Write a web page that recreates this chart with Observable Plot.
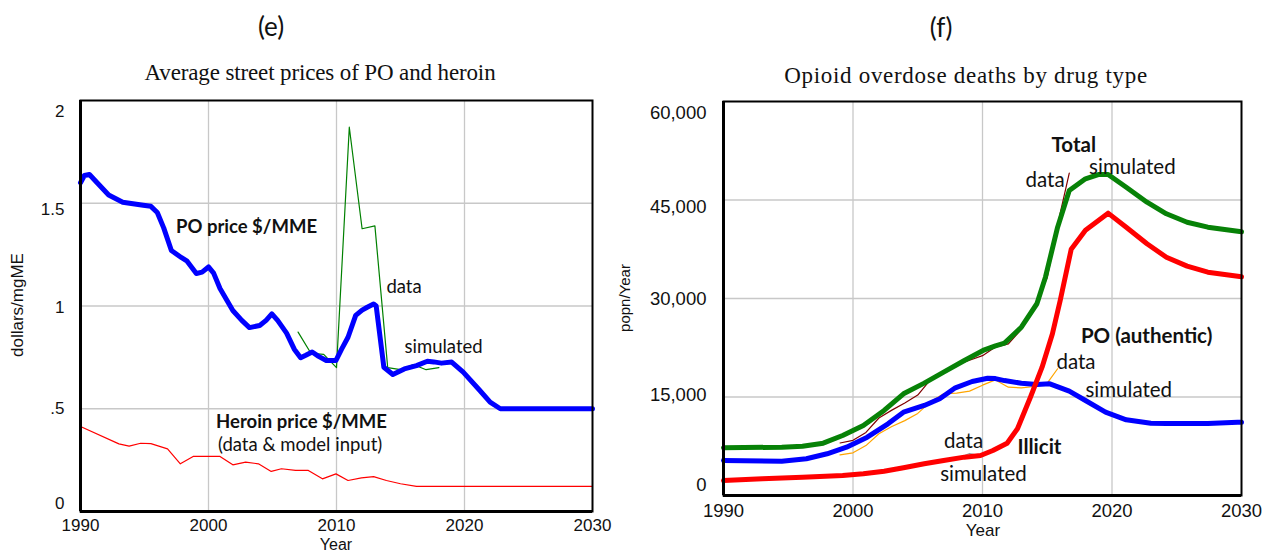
<!DOCTYPE html>
<html>
<head>
<meta charset="utf-8">
<script src="https://cdn.jsdelivr.net/npm/d3@7"></script>
<script src="https://cdn.jsdelivr.net/npm/@observablehq/plot@0.6"></script>
<style>
  html, body { margin: 0; padding: 0; background: #fff; }
  #wrap { position: relative; width: 1278px; height: 556px; overflow: hidden; background: #fff; }
  .t { position: absolute; transform: translate(-50%, -50%); white-space: nowrap; color: #111; }
  .panel { position: absolute; top: 90px; }
  .lab { font-family: "Liberation Sans", Arial, sans-serif; }
  .letter { font-family: Lato, "Open Sans", sans-serif; font-size: 26px; }
  .sub { font-family: "Liberation Serif", "Times New Roman", serif; font-size: 23px; }
  #p1 svg g[aria-label$="tick label"] { font-size: 17px !important; font-family: "Liberation Sans", Arial, sans-serif !important; }
  #p2 svg g[aria-label$="tick label"] { font-size: 18.5px !important; font-family: "Liberation Sans", Arial, sans-serif !important; }
</style>
</head>
<body>
<div id="wrap">
  <div class="t letter" style="left:271px;top:26px">(e)</div>
  <div class="t letter" style="left:941px;top:27px">(f)</div>
  <div class="t sub" style="left:320px;top:73px;letter-spacing:-0.13px">Average street prices of PO and heroin</div>
  <div class="t sub" style="left:966px;top:76px;letter-spacing:0.7px">Opioid overdose deaths by drug type</div>
  <div id="p1" class="panel" style="left:0px"></div>
  <div id="p2" class="panel" style="left:640px"></div>
  <div class="t lab" style="left:336px;top:545px;font-size:16px">Year</div>
  <div class="t lab" style="left:983px;top:531px;font-size:17px">Year</div>
  <div class="t lab" style="left:18px;top:305px;font-size:17px;transform:translate(-50%,-50%) rotate(-90deg)">dollars/mgME</div>
  <div class="t lab" style="left:624px;top:298px;font-size:15px;transform:translate(-50%,-50%) rotate(-90deg)">popn/Year</div>
</div>
<script>
// ---------- data ----------
const yearTicks = [1990, 2000, 2010, 2020, 2030];
const yearGrid = [2000, 2010, 2020];

// Panel (e): dollars per mgME
const priceTicks = [0, 0.5, 1, 1.5, 2];
const priceGrid = [0.5, 1, 1.5];
const poPriceSimulated = [
  [1990,1.60],[1990.3,1.635],[1990.7,1.64],[1991.3,1.60],[1992.2,1.54],[1993.3,1.505],[1994.9,1.49],
  [1995.5,1.485],[1996.0,1.455],[1996.5,1.38],[1997.1,1.27],[1997.9,1.235],[1998.3,1.22],[1999.05,1.158],
  [1999.5,1.165],[2000.0,1.19],[2000.4,1.16],[2000.9,1.085],[2001.9,0.978],[2002.6,0.93],[2003.2,0.895],
  [2004.0,0.905],[2004.5,0.93],[2004.95,0.962],[2005.4,0.93],[2006.1,0.868],[2006.7,0.79],[2007.2,0.748],
  [2007.6,0.76],[2008.1,0.776],[2008.6,0.755],[2009.2,0.735],[2009.96,0.735],[2010.4,0.79],[2010.9,0.848],
  [2011.5,0.954],[2012.0,0.98],[2012.4,0.994],[2012.9,1.01],[2013.1,1.0],[2013.7,0.702],[2014.4,0.667],
  [2015.3,0.694],[2016.25,0.71],[2017.1,0.731],[2017.6,0.728],[2018.2,0.722],[2019.0,0.727],[2019.9,0.678],
  [2021.2,0.589],[2022.0,0.532],[2022.8,0.50],[2030,0.50]
];
const poPriceData = [
  [2007,0.873],[2008,0.77],[2009,0.765],[2010,0.70],[2011,1.87],[2012,1.376],[2013,1.39],
  [2014,0.70],[2015,0.69],[2016,0.715],[2017,0.69],[2018,0.70]
];
const heroinPrice = [
  [1990,0.414],[1993,0.329],[1993.8,0.318],[1994.7,0.332],[1995.5,0.33],[1996.8,0.305],[1997.8,0.232],
  [1998.8,0.268],[2000.9,0.268],[2001.9,0.227],[2002.9,0.24],[2003.9,0.232],[2004.9,0.195],[2005.7,0.208],
  [2006.8,0.2],[2007.8,0.2],[2008.9,0.159],[2009.96,0.183],[2010.9,0.151],[2011.95,0.164],[2012.9,0.17],
  [2013.9,0.151],[2015.0,0.135],[2016.25,0.122],[2030,0.122]
];

// Panel (f): deaths per year
const deathTicks = [0, 15000, 30000, 45000, 60000];
const deathGrid = [15000, 30000, 45000];
const totalSimulated = [
  [1990,7260],[1994.5,7360],[1996.1,7510],[1997.7,7970],[1999.2,9140],[2000.8,10660],[2002.4,12950],
  [2003.9,15490],[2005.5,17110],[2007.0,18780],[2008.6,20560],[2010.15,22190],[2011.0,22800],[2011.7,23200],
  [2013.0,25630],[2014.2,29200],[2014.86,33250],[2015.8,40860],[2016.7,46450],[2017.95,48230],[2019.0,48900],
  [2019.7,48890],[2021.1,46950],[2022.7,44670],[2024.2,42900],[2025.8,41620],[2027.4,40860],[2030,40150]
];
const totalData = [
  [1999,8000],[2000,8400],[2001,9600],[2002,11800],[2003,13000],[2004,14100],[2005,15300],[2006,17700],
  [2007,18700],[2008,19900],[2009,20600],[2010,21300],[2011,22600],[2012,23100],[2013,25300],[2014,28800],
  [2015,33200],[2016,43000],[2016.7,49100]
];
const poAuthenticSimulated = [
  [1990,5330],[1994.5,5230],[1996.4,5590],[1998.0,6350],[1999.5,7360],[2001.1,8880],[2002.7,10920],
  [2003.9,12690],[2005.5,13710],[2006.7,14730],[2007.9,16400],[2009.2,17360],[2010.4,17860],[2011.0,17800],
  [2011.7,17500],[2013.0,17100],[2014.2,16900],[2015.2,17010],[2016.7,15890],[2017.95,14470],[2019.5,12690],
  [2021.1,11530],[2023.0,11010],[2024.2,10960],[2027.4,10960],[2029.7,11160],[2030,11160]
];
const poAuthenticData = [
  [1999,6200],[2000,6500],[2001,7600],[2002,9400],[2003,10500],[2004,11400],[2005,12500],[2006,14300],
  [2007,15500],[2008,15600],[2009,15900],[2010,16800],[2011,17600],[2012,16500],[2013,16400],[2014,16600],
  [2015,17100],[2015.8,19300]
];
const illicitSimulated = [
  [1990,2280],[1993.0,2540],[1996.1,2790],[1999.2,3050],[2000.8,3300],[2002.4,3700],[2003.9,4220],
  [2005.5,4830],[2007.0,5330],[2008.6,5840],[2009.85,6090],[2010.8,6850],[2011.9,7970],[2012.7,10160],
  [2013.7,14970],[2014.6,19540],[2015.4,24630],[2016.0,29700],[2016.85,37500],[2017.95,40400],[2019.7,43000],
  [2021.1,40860],[2022.7,38330],[2024.2,36290],[2025.8,34930],[2027.4,34010],[2030,33300]
];
const illicitData = [[2008,5600],[2009,6400],[2010,6000],[2011,7000],[2012,8300]];

// annotation labels
const labelsE = [
  {x:1997.46, y:1.382, text:"PO price $/MME", bold:true},
  {x:2013.9, y:1.09, text:"data", bold:false},
  {x:2015.31, y:0.798, text:"simulated", bold:false},
  {x:2000.59, y:0.433, text:"Heroin price $/MME", bold:true},
  {x:2000.74, y:0.321, text:"(data & model input)", bold:false}
];
const labelsF = [
  {x:2015.33, y:53300, text:"Total", bold:true},
  {x:2018.23, y:49950, text:"simulated", bold:false},
  {x:2013.32, y:47970, text:"data", bold:false},
  {x:2017.6, y:24220, text:"PO (authentic)", bold:true},
  {x:2015.71, y:20260, text:"data", bold:false},
  {x:2017.95, y:15990, text:"simulated", bold:false},
  {x:2007.03, y:8220, text:"data", bold:false},
  {x:2012.7, y:7310, text:"Illicit", bold:true},
  {x:2006.73, y:3200, text:"simulated", bold:false}
];

// ---------- drawing ----------
const X = d => d[0], Y = d => d[1];
const tickFont = "Liberation Sans, Arial, sans-serif";

function yAxes(ticks, offsets, fmt, pad, size) {
  return ticks.map((t, i) => Plot.axisY([t], {
    tickSize: 0, tickPadding: pad, tickFormat: fmt, label: null,
    dy: offsets[i], fontSize: size, fill: "#111"
  }));
}
function annot(labels, size) {
  return [
    Plot.text(labels.filter(d => d.bold), {x:"x", y:"y", text:"text", textAnchor:"start",
      fontFamily:"Lato, 'Open Sans', sans-serif", fontWeight:"bold", fontSize:size, fill:"#111"}),
    Plot.text(labels.filter(d => !d.bold), {x:"x", y:"y", text:"text", textAnchor:"start",
      fontFamily:"Lato, 'Open Sans', sans-serif", fontSize:size, fill:"#111"})
  ];
}

const p1 = Plot.plot({
  width: 640, height: 466,
  marginLeft: 80, marginRight: 48, marginTop: 10, marginBottom: 45,
  x: {domain: [1990, 2030]},
  y: {domain: [0, 2]},
  style: {fontFamily: tickFont, fontSize: "17px", background: "transparent", overflow: "visible", color: "#111"},
  marks: [
    Plot.gridX(yearGrid, {stroke: "#c8c8c8", strokeOpacity: 1, strokeWidth: 1.3}),
    Plot.gridY(priceGrid, {stroke: "#c8c8c8", strokeOpacity: 1, strokeWidth: 1.3}),
    Plot.axisX(yearTicks, {tickSize: 0, tickPadding: 7, tickFormat: d => String(d), label: null, fontSize: 17, fill: "#111"}),
    ...yAxes(priceTicks, [-8, 0, 2, 6, 11], d => String(d).replace(/^0\./, "."), 16, 17),
    Plot.line(heroinPrice, {x: X, y: Y, stroke: "#ff0000", strokeWidth: 1.2}),
    Plot.line(poPriceData, {x: X, y: Y, stroke: "#008000", strokeWidth: 1.2}),
    Plot.line(poPriceSimulated, {x: X, y: Y, stroke: "#0000ff", strokeWidth: 5}),
    Plot.frame({stroke: "#000", strokeWidth: 2}),
    Plot.ruleX([1990], {stroke: "#000", strokeWidth: 3}),
    Plot.ruleY([0], {stroke: "#000", strokeWidth: 3}),
    ...annot(labelsE, 18.5)
  ]
});
document.getElementById("p1").appendChild(p1);

const p2 = Plot.plot({
  width: 638, height: 466,
  marginLeft: 83, marginRight: 37, marginTop: 11, marginBottom: 61,
  x: {domain: [1990, 2030]},
  y: {domain: [0, 60000]},
  style: {fontFamily: tickFont, fontSize: "18.5px", background: "transparent", overflow: "visible", color: "#111"},
  marks: [
    Plot.gridX(yearGrid, {stroke: "#c8c8c8", strokeOpacity: 1, strokeWidth: 1.3}),
    Plot.gridY(deathGrid, {stroke: "#c8c8c8", strokeOpacity: 1, strokeWidth: 1.3}),
    Plot.axisX(yearTicks, {tickSize: 0, tickPadding: 8, tickFormat: d => String(d), label: null, fontSize: 18.5, fill: "#111"}),
    ...yAxes(deathTicks, [-10, -2, 1, 7, 12], d3.format(","), 17, 18.5),
    Plot.line(totalData, {x: X, y: Y, stroke: "#800000", strokeWidth: 1.2}),
    Plot.line(poAuthenticData, {x: X, y: Y, stroke: "#ffa500", strokeWidth: 1.2}),
    Plot.line(illicitData, {x: X, y: Y, stroke: "#999999", strokeWidth: 1.2}),
    Plot.line(totalSimulated, {x: X, y: Y, stroke: "#078207", strokeWidth: 5}),
    Plot.line(poAuthenticSimulated, {x: X, y: Y, stroke: "#0000ff", strokeWidth: 5}),
    Plot.line(illicitSimulated, {x: X, y: Y, stroke: "#ff0000", strokeWidth: 5}),
    Plot.frame({stroke: "#000", strokeWidth: 2}),
    Plot.ruleX([1990], {stroke: "#000", strokeWidth: 3}),
    Plot.ruleY([0], {stroke: "#000", strokeWidth: 3}),
    ...annot(labelsF, 20.5)
  ]
});
document.getElementById("p2").appendChild(p2);
</script>
</body>
</html>
